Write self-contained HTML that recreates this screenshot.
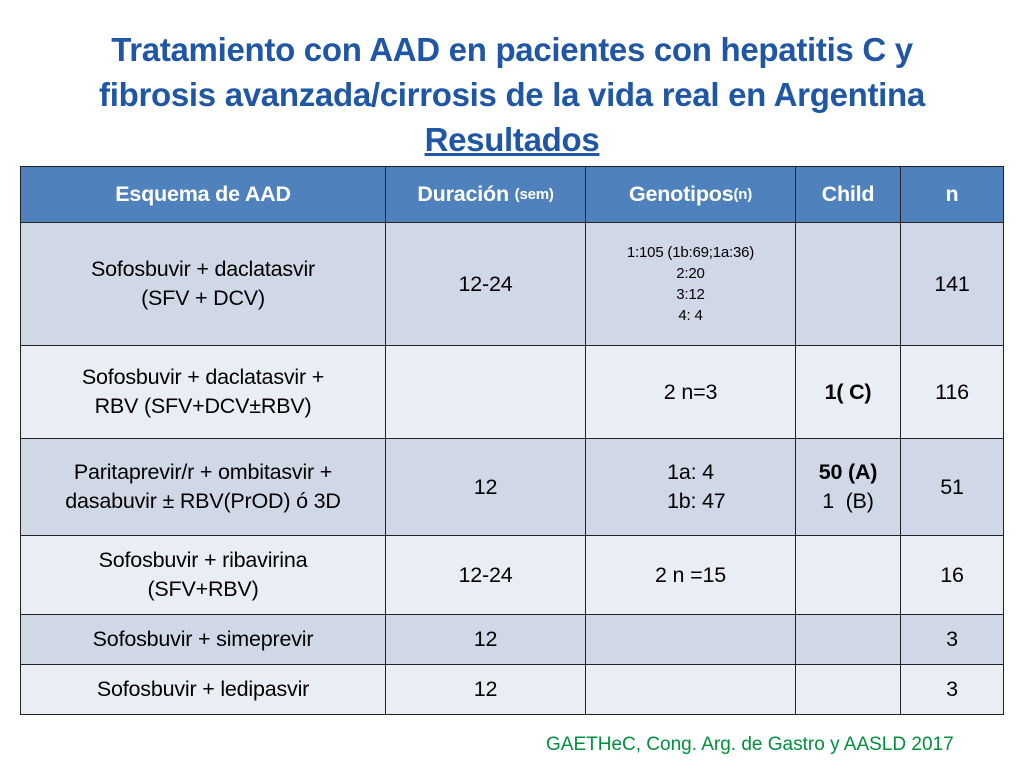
<!DOCTYPE html>
<html><head><meta charset="utf-8"><style>
body{margin:0;width:1024px;height:768px;background:#fff;position:relative;overflow:hidden;font-family:"Liberation Sans",sans-serif}
.t{position:absolute;left:0;width:1024px;text-align:center;color:#1F56A5;font-weight:bold;font-size:33px;letter-spacing:-0.3px}
.c{position:absolute;box-sizing:border-box;border:1px solid #222;display:flex;align-items:center;justify-content:center;text-align:center;font-size:21.5px;line-height:29px;color:#000;letter-spacing:-0.2px}
.h{background:#4F81BD;color:#fff;font-weight:bold}
.d{background:#D0D8E8}.l{background:#E9EDF4}
.s{font-size:15px;line-height:21px}
</style></head><body>
<div class="t" style="top:31px">Tratamiento con AAD en pacientes con hepatitis C y</div>
<div class="t" style="top:76px">fibrosis avanzada/cirrosis de la vida real en Argentina</div>
<div class="t" style="top:121px;text-decoration:underline">Resultados</div>
<div>
<div class="c h" style="left:20px;top:166px;width:366px;height:57px">Esquema de AAD</div>
<div class="c h" style="left:385px;top:166px;width:201px;height:57px">Duración&nbsp;<span style="font-size:15px">(sem)</span></div>
<div class="c h" style="left:585px;top:166px;width:211px;height:57px">Genotipos<span style="font-size:15px">(n)</span></div>
<div class="c h" style="left:795px;top:166px;width:106px;height:57px">Child</div>
<div class="c h" style="left:900px;top:166px;width:104px;height:57px">n</div>

<div class="c d" style="left:20px;top:222px;width:366px;height:124px">Sofosbuvir + daclatasvir<br>(SFV + DCV)</div>
<div class="c d" style="left:385px;top:222px;width:201px;height:124px">12-24</div>
<div class="c d s" style="left:585px;top:222px;width:211px;height:124px">1:105 (1b:69;1a:36)<br>2:20<br>3:12<br>4: 4</div>
<div class="c d" style="left:795px;top:222px;width:106px;height:124px"></div>
<div class="c d" style="left:900px;top:222px;width:104px;height:124px">141</div>

<div class="c l" style="left:20px;top:345px;width:366px;height:94px">Sofosbuvir + daclatasvir +<br>RBV (SFV+DCV±RBV)</div>
<div class="c l" style="left:385px;top:345px;width:201px;height:94px"></div>
<div class="c l" style="left:585px;top:345px;width:211px;height:94px">2 n=3</div>
<div class="c l" style="left:795px;top:345px;width:106px;height:94px;font-weight:bold">1( C)</div>
<div class="c l" style="left:900px;top:345px;width:104px;height:94px">116</div>

<div class="c d" style="left:20px;top:438px;width:366px;height:98px">Paritaprevir/r + ombitasvir +<br>dasabuvir ± RBV(PrOD) ó 3D</div>
<div class="c d" style="left:385px;top:438px;width:201px;height:98px">12</div>
<div class="c d" style="left:585px;top:438px;width:211px;height:98px">1a: 4<br>&nbsp;&nbsp;1b: 47</div>
<div class="c d" style="left:795px;top:438px;width:106px;height:98px"><span><b>50 (A)</b><br>1&nbsp; (B)</span></div>
<div class="c d" style="left:900px;top:438px;width:104px;height:98px">51</div>

<div class="c l" style="left:20px;top:535px;width:366px;height:80px">Sofosbuvir + ribavirina<br>(SFV+RBV)</div>
<div class="c l" style="left:385px;top:535px;width:201px;height:80px">12-24</div>
<div class="c l" style="left:585px;top:535px;width:211px;height:80px">2 n =15</div>
<div class="c l" style="left:795px;top:535px;width:106px;height:80px"></div>
<div class="c l" style="left:900px;top:535px;width:104px;height:80px">16</div>

<div class="c d" style="left:20px;top:614px;width:366px;height:51px">Sofosbuvir + simeprevir</div>
<div class="c d" style="left:385px;top:614px;width:201px;height:51px">12</div>
<div class="c d" style="left:585px;top:614px;width:211px;height:51px"></div>
<div class="c d" style="left:795px;top:614px;width:106px;height:51px"></div>
<div class="c d" style="left:900px;top:614px;width:104px;height:51px">3</div>

<div class="c l" style="left:20px;top:664px;width:366px;height:51px">Sofosbuvir + ledipasvir</div>
<div class="c l" style="left:385px;top:664px;width:201px;height:51px">12</div>
<div class="c l" style="left:585px;top:664px;width:211px;height:51px"></div>
<div class="c l" style="left:795px;top:664px;width:106px;height:51px"></div>
<div class="c l" style="left:900px;top:664px;width:104px;height:51px">3</div>
</div>
<div style="position:absolute;left:546px;top:734px;font-size:19px;color:#00903C;letter-spacing:0px">GAETHeC, Cong. Arg. de Gastro y AASLD 2017</div>
</body></html>
